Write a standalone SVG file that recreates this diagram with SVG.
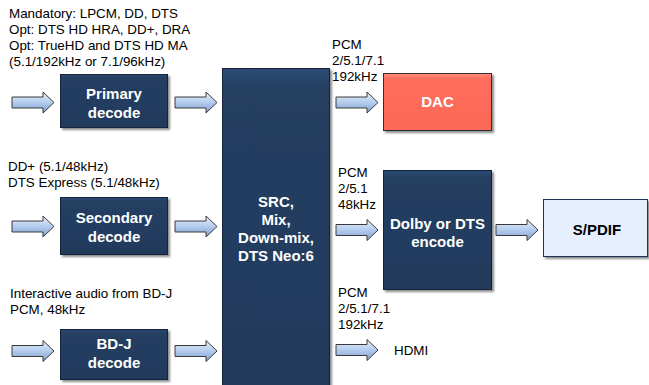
<svg xmlns="http://www.w3.org/2000/svg" width="649" height="385" viewBox="0 0 649 385">
<defs>
<linearGradient id="ag" x1="0" y1="0" x2="0" y2="1">
<stop offset="0" stop-color="#e4eefa"/>
<stop offset="0.5" stop-color="#b4cced"/>
<stop offset="1" stop-color="#7d9fcf"/>
</linearGradient>
<linearGradient id="bg" x1="0" y1="0" x2="0" y2="1">
<stop offset="0" stop-color="#2d4b74"/>
<stop offset="0.06" stop-color="#253f62"/>
<stop offset="1" stop-color="#213a5c"/>
</linearGradient>
<linearGradient id="rg" x1="0" y1="0" x2="0" y2="1">
<stop offset="0" stop-color="#ff8a7c"/>
<stop offset="0.1" stop-color="#ff6d5c"/>
<stop offset="1" stop-color="#fd6a58"/>
</linearGradient>
<filter id="sh" x="-10%" y="-10%" width="130%" height="130%">
<feDropShadow dx="2" dy="2" stdDeviation="1" flood-color="#000" flood-opacity="0.45"/>
</filter>
<path id="arr" d="M0,-5.5 H31 V-10.5 L42,0 L31,10.5 V5.5 H0 Z"/>
<style>
text{font-family:"Liberation Sans",Arial,sans-serif}
.lbl{font-size:13.4px;fill:#000}
.bt{font-size:15px;font-weight:bold;fill:#fff;text-anchor:middle}
.bk{font-size:15px;font-weight:bold;fill:#000;text-anchor:middle}
.box{fill:url(#bg);stroke:#13243b;stroke-width:1;filter:url(#sh)}
.a{fill:url(#ag);stroke:#3a3a3a;stroke-width:1}
</style>
</defs>

<g id="connectors">
<use href="#arr" class="a" x="12" y="102.5"/>
<use href="#arr" class="a" x="175" y="102.5"/>
<use href="#arr" class="a" x="12" y="226.5"/>
<use href="#arr" class="a" x="175" y="226.5"/>
<use href="#arr" class="a" x="12" y="351"/>
<use href="#arr" class="a" x="175" y="351"/>
<use href="#arr" class="a" x="336" y="102.5"/>
<use href="#arr" class="a" x="336" y="230"/>
<use href="#arr" class="a" x="336" y="350"/>
<use href="#arr" class="a" x="496" y="230"/>
</g>

<g id="labels">
<text class="lbl" x="9" y="17.5">Mandatory: LPCM, DD, DTS</text>
<text class="lbl" x="9" y="33.5">Opt: DTS HD HRA, DD+, DRA</text>
<text class="lbl" x="9" y="49.5">Opt: TrueHD and DTS HD MA</text>
<text class="lbl" x="9" y="65.5">(5.1/192kHz or 7.1/96kHz)</text>
<text class="lbl" x="8" y="170.5">DD+ (5.1/48kHz)</text>
<text class="lbl" x="8" y="186.5">DTS Express (5.1/48kHz)</text>
<text class="lbl" x="10" y="297.5">Interactive audio from BD-J</text>
<text class="lbl" x="10" y="313.5">PCM, 48kHz</text>
<text class="lbl" x="332" y="49">PCM</text>
<text class="lbl" x="332" y="65">2/5.1/7.1</text>
<text class="lbl" x="332" y="81">192kHz</text>
<text class="lbl" x="338" y="177">PCM</text>
<text class="lbl" x="338" y="193">2/5.1</text>
<text class="lbl" x="338" y="209">48kHz</text>
<text class="lbl" x="338" y="297">PCM</text>
<text class="lbl" x="338" y="313">2/5.1/7.1</text>
<text class="lbl" x="338" y="329">192kHz</text>
<text class="lbl" x="394" y="355">HDMI</text>
</g>

<g id="primary">
<rect class="box" x="60.5" y="74.5" width="107" height="53"/>
<text class="bt" x="114" y="99">Primary</text>
<text class="bt" x="114" y="118">decode</text>
</g>

<g id="secondary">
<rect class="box" x="60.5" y="197.5" width="107" height="57"/>
<text class="bt" x="114" y="223">Secondary</text>
<text class="bt" x="114" y="242">decode</text>
</g>

<g id="bdj">
<rect class="box" x="60.5" y="329.5" width="107" height="50"/>
<text class="bt" x="114" y="349">BD-J</text>
<text class="bt" x="114" y="368">decode</text>
</g>

<g id="mixer">
<rect class="box" x="222.5" y="68.5" width="107" height="330"/>
<text class="bt" x="276" y="207">SRC,</text>
<text class="bt" x="276" y="225">Mix,</text>
<text class="bt" x="276" y="243">Down-mix,</text>
<text class="bt" x="276" y="261">DTS Neo:6</text>
</g>

<g id="dac">
<rect x="383.5" y="73.5" width="108" height="57" fill="url(#rg)" stroke="#2e2e3a" stroke-width="1" filter="url(#sh)"/>
<text class="bt" x="437.5" y="107">DAC</text>
</g>

<g id="encode">
<rect class="box" x="383.5" y="170.5" width="108" height="119"/>
<text class="bt" x="437.5" y="229">Dolby or DTS</text>
<text class="bt" x="437.5" y="247">encode</text>
</g>

<g id="spdif">
<rect x="543.5" y="199.5" width="104" height="57" fill="#e6effd" stroke="#1f3554" stroke-width="1" filter="url(#sh)"/>
<text class="bk" x="597" y="235">S/PDIF</text>
</g>
</svg>
